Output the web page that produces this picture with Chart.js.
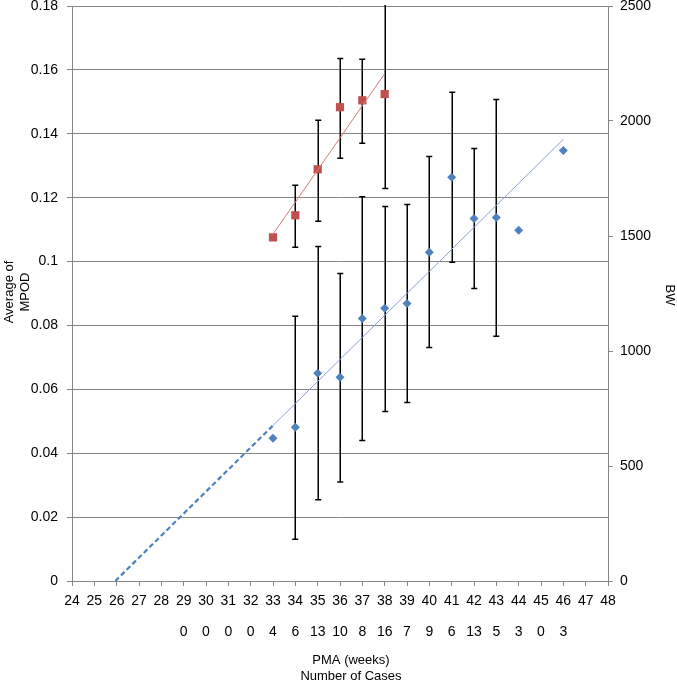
<!DOCTYPE html>
<html>
<head>
<meta charset="utf-8">
<script src="https://cdn.jsdelivr.net/npm/chart.js@4/dist/chart.umd.min.js"></script>
<style>
  body { margin: 0; background: #fff; }
  canvas { display: block; }
</style>
</head>
<body>
<canvas id="chart" width="677" height="684"></canvas>
<script>
// MPOD by PMA (blue diamonds, left axis)
const mpodPma = [33, 34, 35, 36, 37, 38, 39, 40, 41, 42, 43, 44, 46];
const mpod    = [0.0447, 0.0481, 0.0650, 0.0638, 0.0822, 0.0854, 0.0869, 0.1029, 0.1264, 0.1135, 0.1138, 0.1098, 0.1348];
const mpodHi  = [null, 0.0829, 0.1047, 0.0963, 0.1203, 0.1172, 0.1179, 0.1329, 0.1530, 0.1354, 0.1507, null, null];
const mpodLo  = [null, 0.0131, 0.0254, 0.0310, 0.0440, 0.0531, 0.0559, 0.0731, 0.0998, 0.0916, 0.0766, null, null];

// BW by PMA (red squares, right axis)
const bwPma = [33, 34, 35, 36, 37, 38];
const bw    = [1494, 1590, 1790, 2060, 2090, 2117];
const bwHi  = [null, 1721, 2003, 2272, 2268, 2527];
const bwLo  = [null, 1451, 1564, 1838, 1903, 1707];

// number of cases row under the PMA labels
const casesPma = [29, 30, 31, 32, 33, 34, 35, 36, 37, 38, 39, 40, 41, 42, 43, 44, 45, 46];
const cases    = [0, 0, 0, 0, 4, 6, 13, 10, 8, 16, 7, 9, 6, 13, 5, 3, 0, 3];

const FONT = "'Liberation Sans', Arial, sans-serif";
const GRID = '#868686';

// least squares, like Excel's linear trendline
function fit(xs, ys) {
  const n = xs.length;
  const mx = xs.reduce((s, v) => s + v, 0) / n;
  const my = ys.reduce((s, v) => s + v, 0) / n;
  let sxy = 0, sxx = 0;
  xs.forEach((x, i) => { sxy += (x - mx) * (ys[i] - my); sxx += (x - mx) * (x - mx); });
  const m = sxy / sxx;
  return { m, b: my - m * mx };
}

const blueFit = fit(mpodPma, mpod);
const redFit = fit(bwPma, bw);
const f = (t, x) => t.m * x + t.b;
const x0 = -blueFit.b / blueFit.m;

const pts = (xs, ys) => xs.map((x, i) => ({ x, y: ys[i] }));

const errorBars = {
  id: 'errorBars',
  beforeDatasetsDraw(chart) {
    const { ctx, chartArea, scales } = chart;
    ctx.save();
    ctx.beginPath();
    ctx.rect(chartArea.left, chartArea.top - 1, chartArea.right - chartArea.left, chartArea.bottom - chartArea.top + 1);
    ctx.clip();
    ctx.strokeStyle = '#000';
    ctx.lineWidth = 1.5;
    const draw = (xs, hi, lo, ys) => {
      xs.forEach((x, i) => {
        if (hi[i] == null) return;
        const px = Math.round(scales.x.getPixelForValue(x)) + 0.25;
        const top = ys.getPixelForValue(hi[i]);
        const bot = ys.getPixelForValue(lo[i]);
        ctx.beginPath();
        ctx.moveTo(px, top); ctx.lineTo(px, bot);
        ctx.moveTo(px - 3, top); ctx.lineTo(px + 3, top);
        ctx.moveTo(px - 3, bot); ctx.lineTo(px + 3, bot);
        ctx.stroke();
      });
    };
    draw(mpodPma, mpodHi, mpodLo, scales.y);
    draw(bwPma, bwHi, bwLo, scales.y2);
    ctx.restore();
  }
};

const axisTitles = {
  id: 'axisTitles',
  afterDraw(chart) {
    const ctx = chart.ctx;
    ctx.save();
    ctx.fillStyle = '#000';
    ctx.font = '13px ' + FONT;
    ctx.textAlign = 'center';
    ctx.textBaseline = 'middle';
    ctx.fillText('PMA (weeks)', 351, 660);
    ctx.fillText('Number of Cases', 351, 676);

    ctx.save();
    ctx.translate(9, 292);
    ctx.rotate(-Math.PI / 2);
    ctx.fillText('Average of', 0, 0);
    ctx.restore();
    ctx.save();
    ctx.translate(25, 292);
    ctx.rotate(-Math.PI / 2);
    ctx.fillText('MPOD', 0, 0);
    ctx.restore();

    ctx.save();
    ctx.translate(670, 295);
    ctx.rotate(Math.PI / 2);
    ctx.fillText('BW', 0, 0);
    ctx.restore();
    ctx.restore();
  }
};

// fixed box sizes so the plot area sits where the reference has it
const fixTop = s => { s.paddingTop = 6; s.paddingBottom = 0; };

Chart.defaults.font.family = FONT;
Chart.defaults.font.size = 14;
Chart.defaults.color = '#000';

new Chart(document.getElementById('chart'), {
  type: 'scatter',
  data: {
    datasets: [
      {
        label: 'MPOD trend forecast',
        data: [{ x: x0, y: 0 }, { x: 33, y: f(blueFit, 33) }],
        yAxisID: 'y',
        showLine: true,
        borderColor: '#4F81BD',
        borderWidth: 2.2,
        borderDash: [5, 3],
        pointRadius: 0
      },
      {
        label: 'MPOD trend',
        data: [{ x: 33, y: f(blueFit, 33) }, { x: 46, y: f(blueFit, 46) }],
        yAxisID: 'y',
        showLine: true,
        borderColor: '#88A6D3',
        borderWidth: 1,
        pointRadius: 0
      },
      {
        label: 'BW trend',
        data: [{ x: 33, y: f(redFit, 33) }, { x: 38, y: f(redFit, 38) }],
        yAxisID: 'y2',
        showLine: true,
        borderColor: '#D47B79',
        borderWidth: 1,
        pointRadius: 0
      },
      {
        label: 'Average of MPOD',
        data: pts(mpodPma, mpod),
        yAxisID: 'y',
        pointStyle: 'rectRot',
        pointRadius: 4.5,
        backgroundColor: '#4F81BD',
        borderColor: '#4F81BD',
        borderWidth: 0
      },
      {
        label: 'BW',
        data: pts(bwPma, bw),
        yAxisID: 'y2',
        pointStyle: 'rect',
        pointRadius: 5.8,
        backgroundColor: '#C0504D',
        borderColor: '#C0504D',
        borderWidth: 0
      }
    ]
  },
  options: {
    responsive: false,
    animation: false,
    layout: { padding: { top: 6, left: 0, right: 0, bottom: 0 } },
    plugins: { legend: { display: false }, tooltip: { enabled: false } },
    scales: {
      x: {
        type: 'linear',
        min: 24,
        max: 48,
        afterFit: s => { s.height = 103; },
        border: { color: GRID },
        grid: { drawOnChartArea: false, color: GRID, tickLength: 5 },
        ticks: {
          stepSize: 1,
          autoSkip: false,
          maxRotation: 0,
          minRotation: 0,
          padding: 0,
          font: { size: 14, lineHeight: 2.2 },
          callback: v => {
            const i = casesPma.indexOf(v);
            return [String(v), i >= 0 ? String(cases[i]) : ''];
          }
        }
      },
      y: {
        position: 'left',
        min: 0,
        max: 0.18,
        afterFit: s => { s.width = 72; fixTop(s); },
        border: { color: GRID },
        grid: { color: GRID, tickLength: 5 },
        ticks: {
          stepSize: 0.02,
          padding: 9,
          callback: v => String(Number(v.toFixed(2)))
        }
      },
      y2: {
        position: 'right',
        min: 0,
        max: 2500,
        afterFit: s => { s.width = 69; fixTop(s); },
        border: { color: GRID },
        grid: { drawOnChartArea: false, color: GRID, tickLength: 5 },
        ticks: { stepSize: 500, padding: 7, callback: v => String(v) }
      }
    }
  },
  plugins: [errorBars, axisTitles]
});
</script>
</body>
</html>
